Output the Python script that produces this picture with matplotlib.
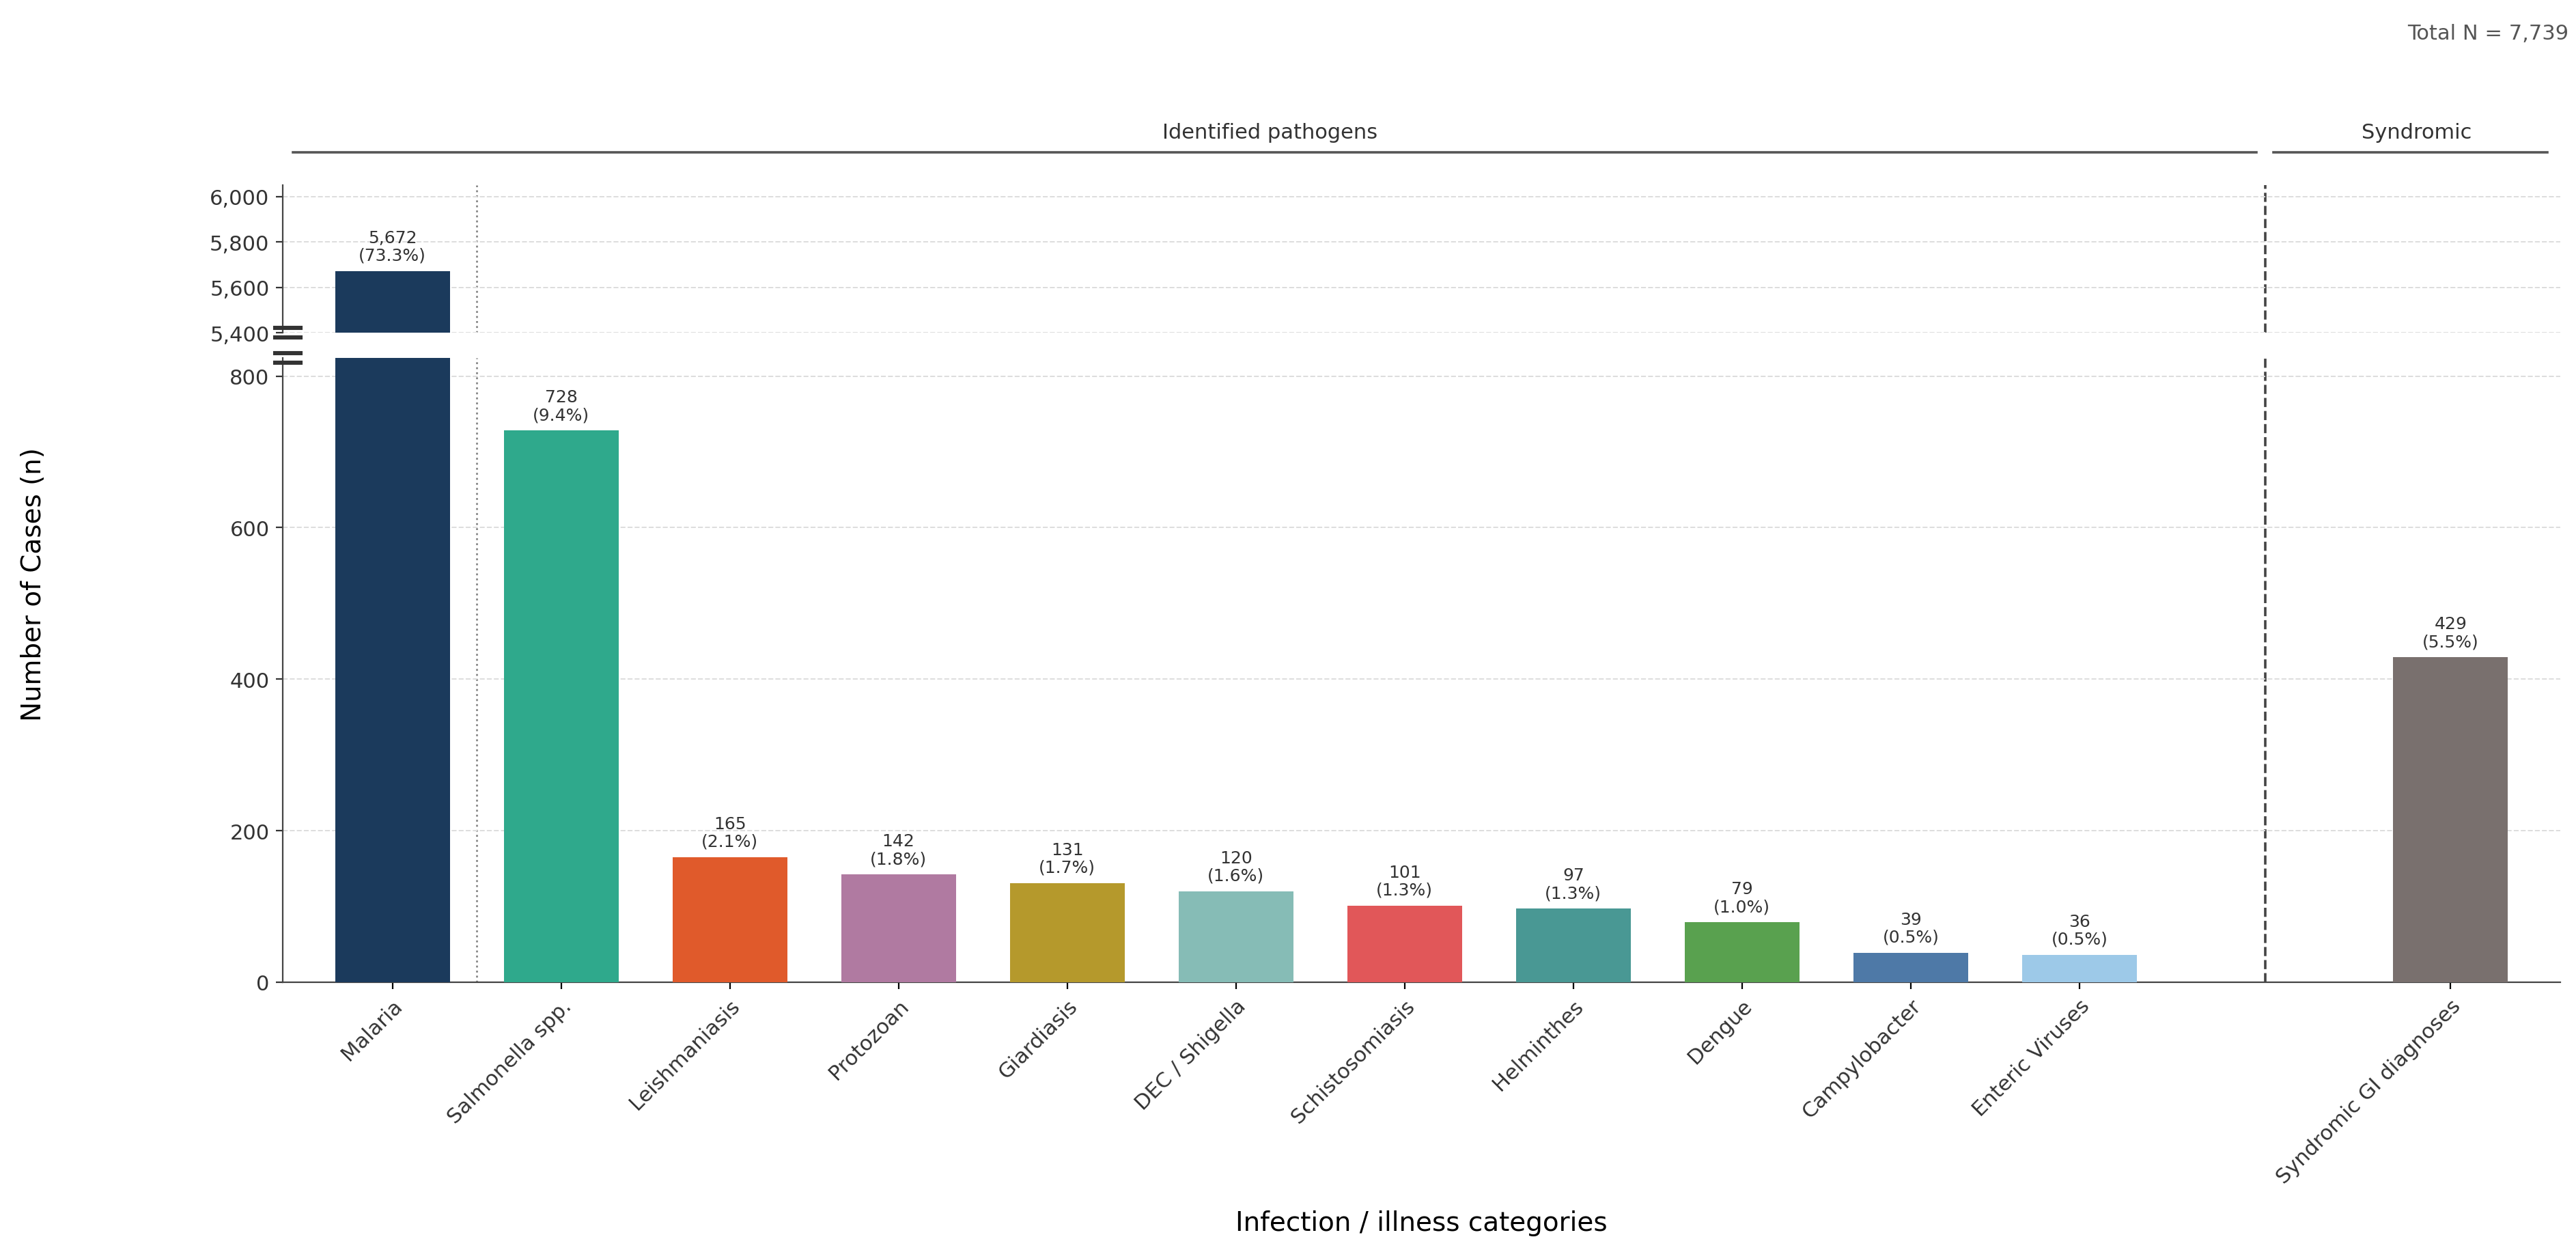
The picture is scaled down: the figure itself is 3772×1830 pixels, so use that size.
import matplotlib
matplotlib.use("Agg")
import matplotlib.pyplot as plt

categories = ["Malaria", "Salmonella spp.", "Leishmaniasis", "Protozoan", "Giardiasis",
              "DEC / Shigella", "Schistosomiasis", "Helminthes", "Dengue", "Campylobacter",
              "Enteric Viruses", "Syndromic GI diagnoses"]
values = [5672, 728, 165, 142, 131, 120, 101, 97, 79, 39, 36, 429]
percents = [73.3, 9.4, 2.1, 1.8, 1.7, 1.6, 1.3, 1.3, 1.0, 0.5, 0.5, 5.5]
colors = ["#1b3a5c", "#2fa98c", "#e05a2b", "#b07aa1", "#b5992c", "#86bcb6", "#e15759",
          "#499894", "#59a14f", "#4e79a7", "#9dc9e8", "#79706e"]
positions = [0, 1, 2, 3, 4, 5, 6, 7, 8, 9, 10, 12.2]
total_n = 7739

W, H, dpi = 3773, 1831, 200
fig = plt.figure(figsize=(W / dpi, H / dpi), dpi=dpi)
L, R = 414 / W, 3749 / W
ax_top = fig.add_axes([L, 1 - 488 / H, R - L, (488 - 272) / H])
ax_bot = fig.add_axes([L, 1 - 1439 / H, R - L, (1439 - 525) / H])

for ax in (ax_top, ax_bot):
    ax.bar(positions, values, width=0.68, color=colors, zorder=3)
    ax.set_xlim(-0.65, 12.85)
    ax.grid(axis="y", linestyle="--", color="#dddddd", linewidth=0.7, zorder=0)
    ax.axvline(0.5, color="#888888", linestyle=":", linewidth=1, zorder=1)
    ax.axvline(11.1, color="#444444", linestyle="--", linewidth=1.3, zorder=1)
    for s in ("top", "right"):
        ax.spines[s].set_visible(False)
    ax.spines["left"].set_color("#444444")
    ax.tick_params(axis="y", labelsize=11, colors="#333333")

ax_top.set_ylim(5400, 6050)
ax_top.set_yticks([5400, 5600, 5800, 6000])
ax_top.spines["bottom"].set_visible(False)
ax_top.tick_params(axis="x", bottom=False, labelbottom=False)
ax_bot.set_ylim(0, 824)
ax_bot.set_yticks([0, 200, 400, 600, 800])
for ax in (ax_top, ax_bot):
    ax.yaxis.set_major_formatter(matplotlib.ticker.FuncFormatter(lambda v, p: f"{int(v):,}"))
ax_bot.spines["bottom"].set_color("#444444")
ax_bot.set_xticks(positions)
ax_bot.set_xticklabels(categories, rotation=45, ha="right", rotation_mode="anchor", fontsize=11, color="#333333")
ax_bot.set_xlabel("Infection / illness categories", fontsize=14, labelpad=12)
fig.text(0.008, 0.5 * ((1 - 1439 / H) + (1 - 272 / H)) + 0.0, "Number of Cases (n)", rotation=90,
         va="center", ha="left", fontsize=14)

for i, (p, v, pc) in enumerate(zip(positions, values, percents)):
    ax = ax_top if v > 824 else ax_bot
    ax.annotate(f"{v:,}\n({pc}%)", (p, v), xytext=(0, 4), textcoords="offset points",
                ha="center", va="bottom", fontsize=9, color="#333333", linespacing=1.1)

# break marks
for y in (1 - 488 / H + 0.004, 1 - 488 / H - 0.004, 1 - 525 / H + 0.004, 1 - 525 / H - 0.004):
    fig.add_artist(plt.Line2D([L - 0.003, L + 0.007], [y, y], color="#333333", linewidth=2.2))

# header
def xf(x):
    return L + (x + 0.65) / 13.5 * (R - L)
yh = 1 - 224 / H
fig.add_artist(plt.Line2D([L + 0.004, xf(11.05)], [yh, yh], color="#555555", linewidth=1.3))
fig.add_artist(plt.Line2D([xf(11.15), R - 0.005], [yh, yh], color="#555555", linewidth=1.3))
fig.text((L + xf(11.05)) / 2, yh + 0.008, "Identified pathogens", ha="center", va="bottom", fontsize=11, color="#333333")
fig.text((xf(11.15) + R) / 2, yh + 0.008, "Syndromic", ha="center", va="bottom", fontsize=11, color="#333333")
fig.text(0.997, 1 - 50 / H, f"Total N = {total_n:,}", ha="right", va="center", fontsize=11, color="#555555")

fig.savefig("out.png", dpi=dpi)
